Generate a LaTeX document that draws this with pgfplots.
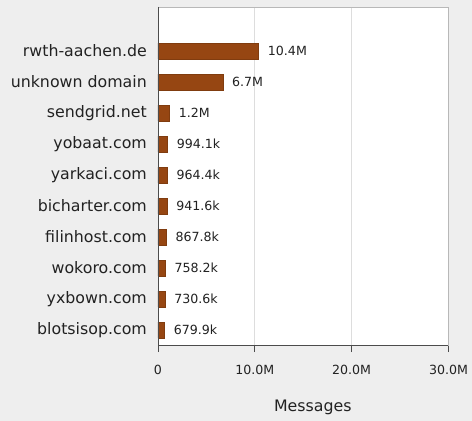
\documentclass[border=0pt]{standalone}
\usepackage{pgfplots}
\pgfplotsset{compat=1.18}
\usepackage{fontspec}
\setmainfont{DejaVu Sans}
\definecolor{bg}{HTML}{EEEEEE}
\definecolor{barc}{RGB}{150,70,18}
\definecolor{gridc}{HTML}{DDDDDD}
\definecolor{txt}{HTML}{222222}
\begin{document}
\begin{tikzpicture}[x=1pt,y=1pt]
\fill[bg] (0,0) rectangle (472,421);
\begin{axis}[
  at={(158pt,76pt)}, anchor=south west,
  scale only axis, width=290.5pt, height=338pt,
  xmin=0, xmax=30, ymin=-0.48, ymax=10.42,
  xbar, bar width=16pt,
  axis background/.style={fill=white},
  axis line style={draw=black!28, line width=0.9pt},
  xtick={0,10,20,30}, xticklabels={0,10.0M,20.0M,30.0M},
  xtick pos=bottom,
  ytick={0,...,9},
  yticklabels={blotsisop.com,yxbown.com,wokoro.com,filinhost.com,bicharter.com,yarkaci.com,yobaat.com,sendgrid.net,unknown domain,rwth-aachen.de},
  xmajorgrids, major grid style={gridc, line width=0.8pt},
  tick align=outside,
  x tick style={black!70, line width=0.8pt}, major tick length=7pt,
  y tick style={draw=none},
  xticklabel style={font=\fontsize{12.6}{14}\selectfont, text=txt, anchor=center, yshift=-17.5pt, inner sep=0pt},
  yticklabel style={font=\fontsize{15.8}{18}\selectfont, text=txt, anchor=east, inner sep=0pt, xshift=-4pt},
  xlabel={Messages},
  every axis x label/.style={at={(axis description cs:0.5,0)}, anchor=center, yshift=-62pt, xshift=9.5pt, font=\fontsize{15.8}{18}\selectfont, text=txt},
  nodes near coords,
  point meta=explicit symbolic,
  nodes near coords style={anchor=west, inner sep=0pt, xshift=9pt, font=\fontsize{12.6}{14}\selectfont, text=txt},
]
\addplot[fill=barc, draw=barc!85!black, line width=0.5pt] table[x=x, y=y, meta=label] {
x y label
10.4 9 10.4M
6.7 8 6.7M
1.2 7 1.2M
0.9941 6 994.1k
0.9644 5 964.4k
0.9416 4 941.6k
0.8678 3 867.8k
0.7582 2 758.2k
0.7306 1 730.6k
0.6799 0 679.9k
};
\draw[black!70, line width=0.9pt] (rel axis cs:0,1) -- (rel axis cs:0,0) -- (rel axis cs:1,0);
\end{axis}
\end{tikzpicture}
\end{document}
